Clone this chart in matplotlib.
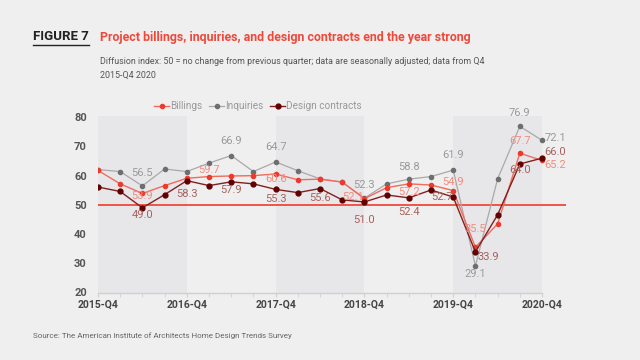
import matplotlib.pyplot as plt
import numpy as np

plt.rcParams['font.family'] = ['Roboto', 'DejaVu Sans']

quarters = ['2015-Q4', '2016-Q4', '2017-Q4', '2018-Q4', '2019-Q4', '2020-Q4']
billings = [61.8, 57.2, 53.9, 56.6, 59.1, 59.7, 59.9, 60.0, 60.6, 58.6, 58.8,
            57.8, 52.1, 55.9, 57.2, 56.8, 54.9, 35.5, 43.5, 67.7, 65.2]
inquiries = [62.1, 61.4, 56.5, 62.3, 61.4, 64.3, 66.9, 61.4, 64.7, 61.7, 58.9,
             57.8, 52.3, 57.2, 58.8, 59.7, 61.9, 29.1, 58.9, 76.9, 72.1]
design = [56.1, 54.6, 49.0, 53.5, 58.3, 56.6, 57.9, 57.2, 55.3, 54.2, 55.6,
          51.7, 51.0, 53.4, 52.4, 55.1, 52.7, 33.9, 46.6, 64.0, 66.0]

# labelled points: (index, dx px, dy px)
lab_inq = [(2, 0, 13), (6, 0, 15), (8, 0, 15), (12, 0, 13), (14, 0, 12),
           (16, 0, 15), (17, 0, -8), (19, 0, 13), (20, 13, 2)]
lab_bil = [(2, 0, -3), (5, 0, 7), (8, 0, -5), (12, -11, 2), (14, 0, -8),
           (16, 0, 9), (17, 0, 18), (19, 0, 12), (20, 13, -5)]
lab_des = [(2, 0, -7), (4, 0, -13), (6, 0, -8), (8, 0, -10), (10, 0, -9),
           (12, 0, -18), (14, 0, -14), (16, -11, 0), (17, 13, -5), (19, 0, -6),
           (20, 13, 6)]

bg = '#efefef'
red = '#f0483a'
grey_line = '#a9a9a9'
grey_dot = '#6e6e6e'

fig = plt.figure(figsize=(6.4, 3.6), dpi=100, facecolor=bg)
ax = fig.add_axes([98/640, 1-292.5/360, 468/640, (292.5-115.8)/360])
ax.set_facecolor(bg)

x = np.arange(len(billings))
for s in [0, 8, 16]:
    ax.axvspan(s, s+4, color='#e7e7ea', lw=0, zorder=0)
ax.axhline(50, color=red, lw=1.3, zorder=1)
ax.plot([0, 20], [20, 20], color='#d0d0d0', lw=1, clip_on=False, zorder=1)

ax.plot(x, inquiries, color=grey_line, lw=0.9, marker='o', ms=3,
        mfc=grey_dot, mec=grey_dot, label='Inquiries', zorder=3)
ax.plot(x, billings, color='#f26a5c', lw=1.0, marker='o', ms=3,
        mfc='#ee3a2c', mec='#ee3a2c', label='Billings', zorder=4)
ax.plot(x, design, color='#82201f', lw=1.0, marker='o', ms=3.5,
        mfc='#600000', mec='#600000', label='Design contracts', zorder=5)

for vals, labs, col in [(inquiries, lab_inq, '#9a9a9a'),
                        (billings, lab_bil, '#f58a7c'),
                        (design, lab_des, '#a8625e')]:
    for i, dx, dy in labs:
        ax.annotate(f'{vals[i]:.1f}', (i, vals[i]), xytext=(dx*0.72, dy*0.72),
                    textcoords='offset points', ha='center', va='center',
                    fontsize=8, color=col, zorder=6)

ax.set_xlim(0, 21.08)
ax.set_ylim(20, 80.5)
ax.set_xticks(range(0, 21, 4))
ax.set_xticklabels(quarters, fontweight='bold', fontsize=7.5, color='#444444')
ax.set_xticks(range(21), minor=True)
ax.set_yticks(range(20, 81, 10))
ax.tick_params(axis='y', length=0, labelsize=8, labelcolor='#555555', pad=8)
ax.tick_params(axis='x', which='both', length=3, color='#d0d0d0', pad=2)
for lbl in ax.get_yticklabels():
    lbl.set_fontweight('bold')
for sp in ax.spines.values():
    sp.set_visible(False)

h, l = ax.get_legend_handles_labels()
order = [1, 0, 2]
leg = fig.legend([h[k] for k in order], [l[k] for k in order], ncol=3,
                 loc='center', bbox_to_anchor=(258/640, 1-106/360),
                 frameon=False, fontsize=7.2, handlelength=1.5,
                 handletextpad=0.1, columnspacing=0.7)
for t in leg.get_texts():
    t.set_color('#999999')

fig.text(33/640, 1-37/360, 'FIGURE 7', fontsize=9.5, fontweight='bold',
         color='#222222', va='center')
fig.add_artist(plt.Line2D([33/640, 89/640], [1-45/360, 1-45/360],
                          color='#222222', lw=1))
fig.text(100/640, 1-37/360,
         'Project billings, inquiries, and design contracts end the year strong',
         fontsize=8.9, fontweight='bold', color=red, va='center')
fig.text(100/640, 1-62/360,
         'Diffusion index: 50 = no change from previous quarter; data are seasonally adjusted; data from Q4',
         fontsize=6.4, color='#555555', va='center')
fig.text(100/640, 1-75/360, '2015-Q4 2020', fontsize=6.4, color='#555555',
         va='center')
fig.text(33/640, 1-336/360,
         'Source: The American Institute of Architects Home Design Trends Survey',
         fontsize=5.8, color='#666666', va='center')

fig.savefig('out.png', dpi=100, facecolor=bg)
